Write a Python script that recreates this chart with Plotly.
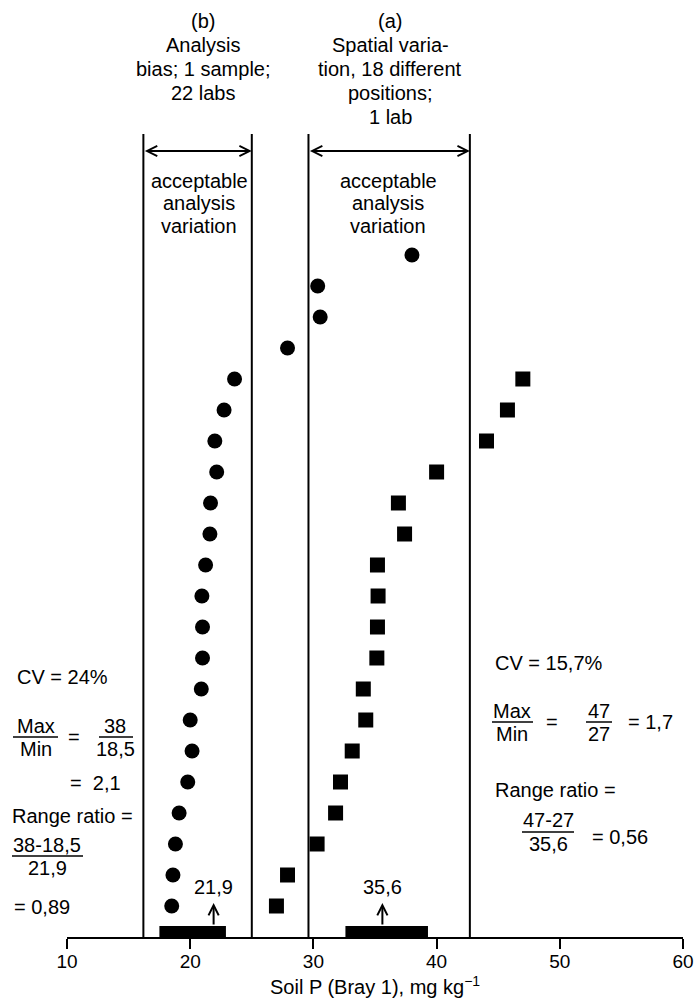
import plotly.graph_objects as go

# ---- data -------------------------------------------------------------
# (b) analysis bias: one sample measured by 22 labs, listed bottom -> top
labs_p = [18.5, 18.6, 18.8, 19.1, 19.8, 20.15, 20.0, 20.9, 21.0, 21.0, 20.95,
          21.25, 21.6, 21.65, 22.15, 22.0, 22.75, 23.6, 27.9, 30.55, 30.35, 38.0]
# (a) spatial variation: 18 positions analysed by one lab, bottom -> top
positions_p = [27.0, 27.9, 30.3, 31.8, 32.2, 33.15, 34.25, 34.05, 35.15, 35.2,
               35.25, 35.2, 37.4, 36.9, 40.0, 44.05, 45.75, 47.0]

labs_rank = list(range(1, len(labs_p) + 1))
positions_rank = list(range(1, len(positions_p) + 1))

mean_b, mean_a = 21.9, 35.6
mean_b_label, mean_a_label = "21,9", "35,6"

# acceptable analysis variation bounds
accept_b = [16.2, 25.0]
accept_a = [29.6, 42.7]

# thick bars on the axis
bar_b = [17.5, 22.9]
bar_a = [32.6, 39.3]

x_ticks = [10, 20, 30, 40, 50, 60]

# ---- layout geometry ----------------------------------------------------
W, H = 694, 1001
ML, MR, MT, MB = 67, 11, 0, 64
PW, PH = W - ML - MR, H - MT - MB
RANK_PX = 31.0                      # vertical pixels per rank step
Y_TOP = PH / RANK_PX

FONT = "Liberation Sans, Arial, Helvetica, sans-serif"
FS = 20


def px(x):
    return (x - ML) / PW


def py(y):
    return (H - MB - y) / PH


def ry(y):
    return (H - MB - y) / RANK_PX


fig = go.Figure()

fig.add_trace(go.Scatter(
    x=labs_p, y=labs_rank, mode="markers",
    marker=dict(symbol="circle", size=15, color="black"),
    cliponaxis=False, showlegend=False, name="(b)"))

fig.add_trace(go.Scatter(
    x=positions_p, y=positions_rank, mode="markers",
    marker=dict(symbol="square", size=15, color="black"),
    cliponaxis=False, showlegend=False, name="(a)"))

shapes = []
line_top = ry(134)
for xv in accept_b + accept_a:
    shapes.append(dict(type="line", xref="x", yref="y", x0=xv, x1=xv,
                       y0=0, y1=line_top, line=dict(color="black", width=2)))

for lo, hi in (bar_b, bar_a):
    shapes.append(dict(type="rect", xref="x", yref="y", x0=lo, x1=hi,
                       y0=0, y1=ry(926), fillcolor="black",
                       line=dict(width=0), layer="above"))

annotations = []


def text(x, y, s, anchor="center", size=FS):
    annotations.append(dict(x=px(x), y=py(y), xref="paper", yref="paper",
                            text=s, showarrow=False, xanchor=anchor,
                            yanchor="middle",
                            font=dict(family=FONT, size=size, color="black")))


def bar(x0, x1, y):
    shapes.append(dict(type="line", xref="paper", yref="paper",
                       x0=px(x0), x1=px(x1), y0=py(y), y1=py(y),
                       line=dict(color="black", width=1.5)))


# headers
for i, s in enumerate(["(b)", "Analysis", "bias; 1 sample;", "22 labs"]):
    text(203, 21 + 24 * i, s)
for i, s in enumerate(["(a)", "Spatial varia-", "tion, 18 different",
                       "positions;", "1 lab"]):
    text(390, 21 + 24 * i, s)

# box captions
for cx in (199, 388):
    for i, s in enumerate(["acceptable", "analysis", "variation"]):
        text(cx, 181 + 22.5 * i, s)

# double-headed arrows spanning each acceptable range
arrow_y = ry(151)
for lo, hi in (accept_b, accept_a):
    annotations.append(dict(x=hi, y=arrow_y, ax=lo, ay=arrow_y,
                            xref="x", yref="y", axref="x", ayref="y",
                            text="", showarrow=True, arrowside="end+start",
                            arrowhead=5, startarrowhead=5, arrowsize=1,
                            startarrowsize=1, arrowwidth=2,
                            standoff=0, startstandoff=0, arrowcolor="black"))

# mean arrows and labels
for m, lab in ((mean_b, mean_b_label), (mean_a, mean_a_label)):
    annotations.append(dict(x=m, y=ry(903), ax=m, ay=ry(926),
                            xref="x", yref="y", axref="x", ayref="y",
                            text="", showarrow=True, arrowhead=5,
                            arrowsize=1, arrowwidth=2, standoff=0,
                            arrowcolor="black"))
    annotations.append(dict(x=m, y=ry(887), xref="x", yref="y", text=lab,
                            showarrow=False, xanchor="center",
                            yanchor="middle",
                            font=dict(family=FONT, size=FS, color="black")))

# statistics for (b)
text(15, 677, "CV = 24%", "left")
text(36, 726, "Max")
bar(13, 58, 737)
text(36, 749, "Min")
text(74, 737, "=")
text(115, 726, "38")
bar(99, 133, 737)
text(115, 749, "18,5")
text(68, 783, "=  2,1", "left")
text(10, 816, "Range ratio =", "left")
text(47, 845, "38-18,5")
bar(12, 83, 856)
text(47, 868, "21,9")
text(12, 907, "= 0,89", "left")

# statistics for (a)
text(493, 663, "CV = 15,7%", "left")
text(512, 711, "Max")
bar(492, 533, 722)
text(512, 734, "Min")
text(552, 722, "=")
text(599, 711, "47")
bar(586, 612, 722)
text(599, 734, "27")
text(626, 722, "= 1,7", "left")
text(493, 790, "Range ratio =", "left")
text(548, 820, "47-27")
bar(522, 574, 832)
text(548, 844, "35,6")
text(590, 837, "= 0,56", "left")

# axis title
text(375, 985, "Soil P (Bray 1), mg kg<sup>\u22121</sup>", size=20)

fig.update_layout(
    width=W, height=H,
    margin=dict(l=ML, r=MR, t=MT, b=MB, pad=0),
    paper_bgcolor="white", plot_bgcolor="white",
    shapes=shapes, annotations=annotations,
    xaxis=dict(range=[10, 60], tickvals=x_ticks, ticks="outside",
               ticklen=10, tickwidth=2, tickcolor="black",
               ticklabelstandoff=-4,
               showline=True, linecolor="black", linewidth=2,
               showgrid=False, zeroline=False,
               tickfont=dict(family=FONT, size=19, color="black")),
    yaxis=dict(range=[0, Y_TOP], visible=False, showgrid=False,
               zeroline=False),
    font=dict(family=FONT, color="black"),
)

fig.write_html("out.html")
